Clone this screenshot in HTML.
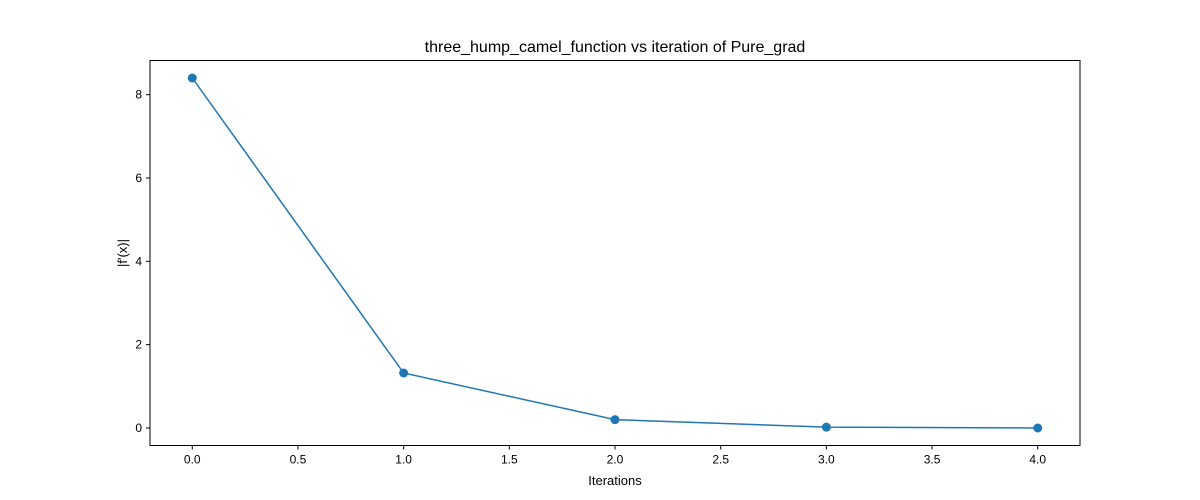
<!DOCTYPE html>
<html><head><meta charset="utf-8"><style>
body{margin:0;background:#fff;position:relative;width:1200px;height:500px;overflow:hidden;}
svg{display:block;font-family:"Liberation Sans","DejaVu Sans",sans-serif;}
#ylab{position:absolute;left:94px;top:244px;width:60px;height:18px;line-height:18px;text-align:center;font:13px "Liberation Sans","DejaVu Sans",sans-serif;transform:rotate(-90deg);transform-origin:30px 9px;}
</style></head><body>
<svg id="chart" width="1200" height="500">
<text x="615" y="52" font-size="16" text-anchor="middle">three_hump_camel_function vs iteration of Pure_grad</text>
<g id="xt"></g>
<g id="yt"></g>
<text x="615" y="485" font-size="13" text-anchor="middle">Iterations</text>
<g id="plot"></g>
<rect x="150" y="60.5" width="930" height="385" fill="none" stroke="#000" stroke-width="1"/>
</svg>
<div id="ylab">|f'(x)|</div>
<script>
const iterations=[0,1,2,3,4];
const gradNorm=[8.4,1.32,0.2,0.02,0.0];
const xTicks=[0,0.5,1,1.5,2,2.5,3,3.5,4];
const yTicks=[0,2,4,6,8];
const X0=150,X1=1080,Y0=445.5,Y1=60.5;
const xmin=-0.2,xmax=4.2,ymin=-0.42,ymax=8.82;
const sx=v=>X0+(v-xmin)/(xmax-xmin)*(X1-X0);
const sy=v=>Y0-(v-ymin)/(ymax-ymin)*(Y0-Y1);
const NS='http://www.w3.org/2000/svg';
function mk(t,a,p){const e=document.createElementNS(NS,t);for(const k in a)e.setAttribute(k,a[k]);p.appendChild(e);return e;}
const xt=document.getElementById('xt'),yt=document.getElementById('yt'),plot=document.getElementById('plot');
xTicks.forEach(v=>{const x=sx(v);
 const l=mk('line',{x1:x,x2:x,y1:Y0,y2:Y0+4,stroke:'#000'},xt);
 
 
 const t=mk('text',{x:x,y:Y0+18,'font-size':12,'text-anchor':'middle'},xt);t.textContent=v.toFixed(1);
 
 });
yTicks.forEach(v=>{const y=sy(v);
 const l=mk('line',{x1:X0-4,x2:X0,y1:y,y2:y,stroke:'#000'},yt);
 
 
 const t=mk('text',{x:X0-8,y:y+4,'font-size':12,'text-anchor':'end'},yt);t.textContent=v;
 
 });
const pts=iterations.map((v,i)=>sx(v)+','+sy(gradNorm[i])).join(' ');
const pl=mk('polyline',{points:pts,fill:'none',stroke:'#1f77b4','stroke-width':1.5},plot);


iterations.forEach((v,i)=>{const c=mk('circle',{cx:sx(v),cy:sy(gradNorm[i]),r:4.5,fill:'#1f77b4'},plot);
 
 });
</script>
</body></html>
